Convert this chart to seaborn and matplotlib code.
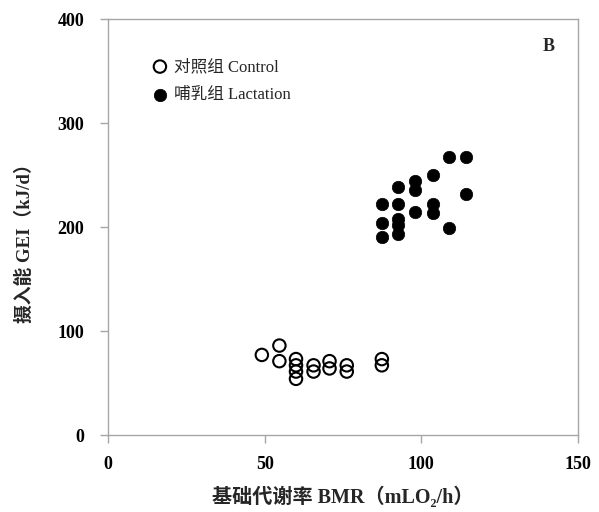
import numpy as np
import pandas as pd
import matplotlib
matplotlib.use("Agg")
import matplotlib.pyplot as plt
import seaborn as sns

# Basal metabolic rate (mLO2/h) and gross energy intake (kJ/d)
control_bmr = [49.1, 54.7, 54.7, 60.0, 60.0, 60.0, 60.0, 65.6, 65.6, 70.7, 70.7, 76.2, 76.2, 87.4, 87.4]
control_gei = [77, 86, 71, 73, 67, 61, 54, 67, 61, 71, 64, 67, 61, 73, 67]

lact_bmr = [87.4, 87.4, 87.4, 92.7, 92.7, 92.7, 92.7, 92.7, 98.1, 98.1, 98.1,
            103.7, 103.7, 103.7, 108.7, 108.7, 114.4, 114.4]
lact_gei = [222, 204, 190, 238, 222, 208, 202, 193, 244, 236, 214,
            250, 222, 213, 267, 199, 267, 232]

group_labels = ["对照组 Control", "哺乳组 Lactation"]
x_ticks = [0, 50, 100, 150]
y_ticks = [0, 100, 200, 300, 400]

sns.set_theme(style="white")
fonts = ["Liberation Serif", "Noto Sans CJK SC", "DejaVu Serif"]
plt.rcParams["font.family"] = fonts

ctrl = pd.DataFrame({"bmr": control_bmr, "gei": control_gei})
lact = pd.DataFrame({"bmr": lact_bmr, "gei": lact_gei})

fig = plt.figure(figsize=(5.99, 5.12), dpi=100)
ax = fig.add_axes([108 / 599, 1 - 435 / 512, 470 / 599, 416 / 512])

sns.scatterplot(data=ctrl, x="bmr", y="gei", ax=ax, marker="o", s=80,
                facecolor="none", edgecolor="black", linewidth=1.5,
                label=group_labels[0], zorder=3)
sns.scatterplot(data=lact, x="bmr", y="gei", ax=ax, marker="o", s=80,
                color="black", edgecolor="black", linewidth=0.5,
                label=group_labels[1], zorder=3)

ax.set_xlim(0, 150)
ax.set_ylim(0, 400)
ax.set_xticks(x_ticks)
ax.set_yticks(y_ticks)

spine_col = "#a6a6a6"
for sp in ax.spines.values():
    sp.set_color(spine_col)
    sp.set_linewidth(1.0)
ax.tick_params(axis="both", which="major", direction="out", length=6,
               width=1.0, color=spine_col, labelcolor="black", labelsize=13)
ax.tick_params(axis="y", pad=11, left=True)
ax.tick_params(axis="x", pad=9, bottom=True)
for lab in ax.get_xticklabels() + ax.get_yticklabels():
    lab.set_fontweight("bold")

ax.set_xlabel("基础代谢率 BMR（mLO₂/h）", fontsize=14.5, fontweight="bold")
ax.set_ylabel("摄入能 GEI（kJ/d）", fontsize=13.5, fontweight="bold")
ax.xaxis.set_label_coords(0.5, -0.125)
ax.yaxis.set_label_coords(-0.158, 0.472)

leg = ax.legend(loc="upper left", bbox_to_anchor=(0.075, 0.92), frameon=False,
                fontsize=12, handletextpad=0.25, labelspacing=0.75,
                borderaxespad=0, handlelength=1.2)

ax.text(0.938, 0.935, "B", transform=ax.transAxes, ha="center", va="center",
        fontsize=13, fontweight="bold")

fig.savefig("out.png", dpi=100)
